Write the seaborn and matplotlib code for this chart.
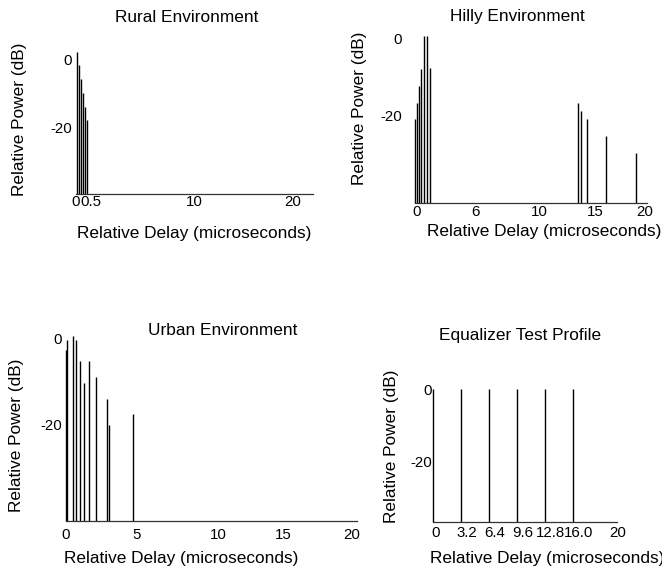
import matplotlib
matplotlib.use("Agg")
import matplotlib.pyplot as plt
import seaborn as sns

# ---------------- data ----------------
rural_delay = [0, 0.15, 0.33, 0.52, 0.70, 0.88]
rural_power = [2.2, -1.5, -5.7, -9.7, -13.9, -17.8]

hilly_delay = [0, 0.18, 0.39, 0.54, 0.78, 1.09, 1.36, 14.72, 15.02, 15.56, 17.29, 20.0]
hilly_power = [-21.1, -16.9, -12.4, -8.1, 0.6, 0.6, -7.8, -16.9, -19.0, -21.1, -25.5, -30.0]

urban_delay = [0, 0.11, 0.49, 0.74, 1.0, 1.28, 1.63, 2.14, 2.9, 3.02, 4.71]
urban_power = [-2.7, -0.4, 0.6, -0.4, -5.3, -10.3, -5.3, -9.0, -14.2, -20.1, -17.7]

eq_delay = [0, 3.2, 6.4, 9.6, 12.8, 16.0]
eq_power = [0, 0, 0, 0, 0, 0]

titles = ["Rural Environment", "Hilly Environment", "Urban Environment", "Equalizer Test Profile"]
xlabel = "Relative Delay (microseconds)"
ylabel = "Relative Power (dB)"

rural_xticklabels = ["0", "0.5", "10", "20"]
hilly_xticklabels = ["0", "6", "10", "15", "20"]
urban_xticklabels = ["0", "5", "10", "15", "20"]
eq_xticklabels = ["0", "3.2", "6.4", "9.6", "12.8", "16.0", "20"]
yticklabels = ["0", "-20"]
yticks = [0, -20]

# ---------------- style ----------------
sns.set_theme(style="white")
plt.rcParams["font.family"] = ["Liberation Sans", "DejaVu Sans"]

W, H = 662, 571
fig = plt.figure(figsize=(W / 100, H / 100), dpi=100)

TICK_FS = 10.8
LAB_FS = 12.4


def add_px_axes(left, top, right, bottom):
    return fig.add_axes([left / W, 1 - bottom / H, (right - left) / W, (bottom - top) / H])


panels = [
    dict(x=rural_delay, y=rural_power, xt=[-0.16, 1.22, 10.8, 20.0], xtl=rural_xticklabels,
         box=(75.7, 52.1, 313, 194), xlim=(0, 21.84), ylim=(-39.8, 2.3),
         ypad=2.9, xpad=1.0, title=(186.7, 17.5), xl=(194.5, 233.5), yl=(20, 119)),
    dict(x=hilly_delay, y=hilly_power, xt=[0.15, 5.43, 11.25, 16.29, 20.75], xtl=hilly_xticklabels,
         box=(415, 34.5, 647, 202.5), xlim=(0, 21.0), ylim=(-42.8, 1.0),
         ypad=9.4, xpad=1.9, title=(517.7, 16.5), xl=(543.8, 231.5), yl=(359.3, 108.3)),
    dict(x=urban_delay, y=urban_power, xt=[0, 4.97, 10.67, 15.22, 19.97], xtl=urban_xticklabels,
         box=(65.7, 334.1, 356.7, 520.5), xlim=(0, 20.35), ylim=(-42.5, 1.0),
         ypad=2.9, xpad=5.2, title=(222.2, 330.8), xl=(180.8, 558), yl=(16.7, 435)),
    dict(x=eq_delay, y=eq_power, xt=[0.29, 3.89, 7.05, 10.29, 13.43, 16.67, 21.14], xtl=eq_xticklabels,
         box=(433.3, 388.1, 617.3, 521.7), xlim=(0, 21.03), ylim=(-36.6, 0.3),
         ypad=1.2, xpad=3.2, title=(519.7, 335.8), xl=(546.7, 558), yl=(391.7, 446.7)),
]

for p, title in zip(panels, titles):
    ax = add_px_axes(*p["box"])
    ax.set_xlim(*p["xlim"])
    ax.set_ylim(*p["ylim"])
    ax.vlines(p["x"], p["ylim"][0], p["y"], colors="black", linewidth=1.0, clip_on=False)
    sns.despine(ax=ax, left=True, top=True, right=True)
    ax.spines["bottom"].set_color("#333333")
    ax.spines["bottom"].set_linewidth(0.9)
    ax.set_facecolor("none")
    ax.grid(False)
    ax.set_xticks(p["xt"])
    ax.set_xticklabels(p["xtl"])
    ax.set_yticks(yticks)
    ax.set_yticklabels(yticklabels)
    ax.tick_params(axis="x", length=0, pad=p["xpad"], labelsize=TICK_FS, colors="black")
    ax.tick_params(axis="y", length=0, pad=p["ypad"], labelsize=TICK_FS, colors="black")
    tx, ty = p["title"]
    fig.text(tx / W, 1 - ty / H, title, ha="center", va="center", fontsize=LAB_FS, color="black")
    lx, ly = p["xl"]
    fig.text(lx / W, 1 - ly / H, xlabel, ha="center", va="center", fontsize=LAB_FS, color="black")
    yx, yy = p["yl"]
    fig.text(yx / W, 1 - yy / H, ylabel, ha="center", va="center", rotation=90,
             fontsize=LAB_FS, color="black")

fig.savefig("out.png", dpi=100, facecolor="white")
